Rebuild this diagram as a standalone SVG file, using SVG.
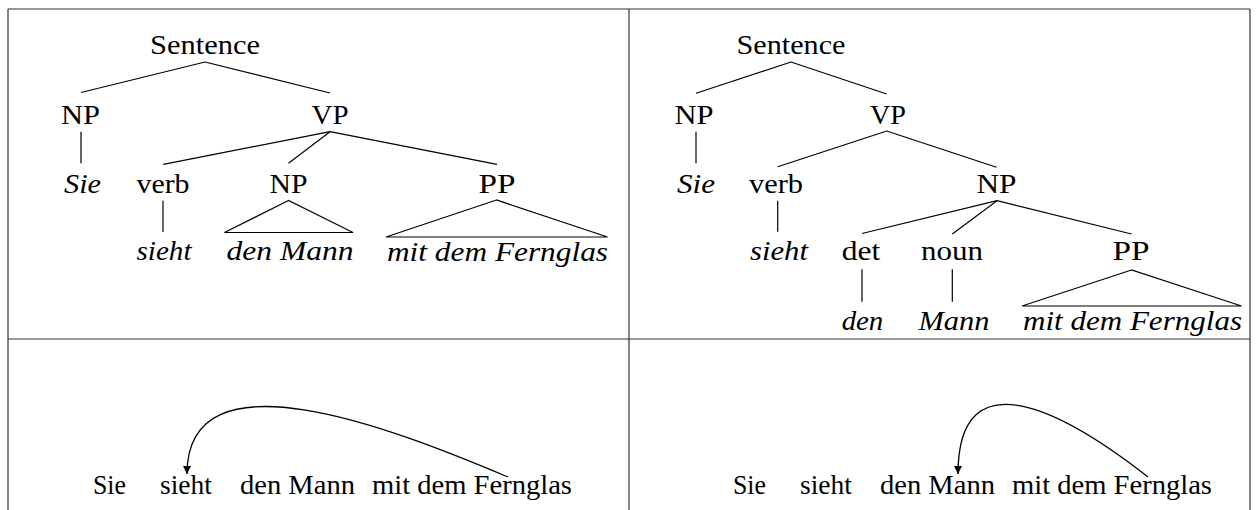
<svg xmlns="http://www.w3.org/2000/svg" width="1258" height="510" viewBox="0 0 1258 510" font-family="'Liberation Serif', Tinos, 'Noto Serif', 'DejaVu Serif', FreeSerif, 'Nimbus Roman', Times, Georgia, serif">
  <defs>
    <marker id="arrowhead" viewBox="0 0 10 10" refX="10" refY="5" markerWidth="10" markerHeight="8" markerUnits="userSpaceOnUse" orient="auto">
      <path d="M0,0 L10,5 L0,10 Z" fill="#000"/>
    </marker>
  </defs>
  <style>
    .frame { stroke: #333; stroke-width: 1.2; fill: none; }
    .edge { stroke: #000; stroke-width: 1.2; fill: none; stroke-linejoin: miter; }
    .arc { stroke: #000; stroke-width: 1.3; fill: none; }
    .cat { font-size: 28px; text-anchor: middle; fill: #000; }
    .word { font-size: 28px; font-style: italic; text-anchor: middle; fill: #000; }
    .plain { font-size: 27px; fill: #000; }
  </style>

  <rect width="1258" height="510" fill="#fff"/>

  <!-- table frame -->
  <g id="frame">
    <line class="frame" x1="8" y1="9" x2="1250" y2="9"/>
    <line class="frame" x1="8" y1="9" x2="8" y2="510"/>
    <line class="frame" x1="629" y1="9" x2="629" y2="510"/>
    <line class="frame" x1="1250" y1="9" x2="1250" y2="510"/>
    <line class="frame" x1="8" y1="339" x2="1250" y2="339"/>
  </g>

  <!-- tree edges and roofs -->
  <g id="connectors">
    <!-- left tree: PP attached to VP -->
    <line class="edge" x1="205" y1="62" x2="81" y2="92.5"/>
    <line class="edge" x1="205" y1="62" x2="330" y2="93"/>
    <line class="edge" x1="81" y1="131.7" x2="81" y2="163.3"/>
    <line class="edge" x1="330" y1="131.7" x2="163.3" y2="164.3"/>
    <line class="edge" x1="330" y1="131.7" x2="288.5" y2="163.3"/>
    <line class="edge" x1="330" y1="131.7" x2="497" y2="164.3"/>
    <line class="edge" x1="163" y1="200.7" x2="163" y2="232"/>
    <polygon class="edge" points="288.5,200.5 224.5,232.5 353,232.5"/>
    <polygon class="edge" points="496.5,200 386,237 607.5,237"/>

    <!-- right tree: PP attached to NP -->
    <line class="edge" x1="791" y1="62" x2="696" y2="93.3"/>
    <line class="edge" x1="791" y1="62" x2="886.7" y2="94"/>
    <line class="edge" x1="696" y1="131.7" x2="696" y2="163.3"/>
    <line class="edge" x1="886.7" y1="131" x2="777.7" y2="166.7"/>
    <line class="edge" x1="886.7" y1="131" x2="996.5" y2="167.3"/>
    <line class="edge" x1="777.7" y1="200.7" x2="777.7" y2="231.7"/>
    <line class="edge" x1="997" y1="200.7" x2="862" y2="233.5"/>
    <line class="edge" x1="997" y1="200.7" x2="952.3" y2="234"/>
    <line class="edge" x1="997" y1="200.7" x2="1131.5" y2="234"/>
    <line class="edge" x1="862" y1="269.3" x2="862" y2="301.7"/>
    <line class="edge" x1="952.3" y1="269.3" x2="952.3" y2="301.7"/>
    <polygon class="edge" points="1131.5,270 1022,306 1241.5,306"/>

    <!-- dependency arcs -->
    <path class="arc" d="M508,477 C392,428 187,348 187,474" marker-end="url(#arrowhead)"/>
    <path class="arc" d="M1148,477 C1065,412 958,354 958,474" marker-end="url(#arrowhead)"/>
  </g>

  <!-- left tree nodes -->
  <g id="left-tree">
    <g id="l-sentence"><text class="cat" x="205" y="54" textLength="110" lengthAdjust="spacingAndGlyphs">Sentence</text></g>
    <g id="l-np"><text class="cat" x="80.5" y="124" textLength="39" lengthAdjust="spacingAndGlyphs">NP</text></g>
    <g id="l-vp"><text class="cat" x="330" y="124" textLength="37" lengthAdjust="spacingAndGlyphs">VP</text></g>
    <g id="l-sie"><text class="word" x="82.5" y="192.5" textLength="37" lengthAdjust="spacingAndGlyphs">Sie</text></g>
    <g id="l-verb"><text class="cat" x="163" y="192.5" textLength="53" lengthAdjust="spacingAndGlyphs">verb</text></g>
    <g id="l-np2"><text class="cat" x="288.5" y="192.5" textLength="38" lengthAdjust="spacingAndGlyphs">NP</text></g>
    <g id="l-pp"><text class="cat" x="497" y="192.5" textLength="37" lengthAdjust="spacingAndGlyphs">PP</text></g>
    <g id="l-sieht"><text class="word" x="164" y="260" textLength="55" lengthAdjust="spacingAndGlyphs">sieht</text></g>
    <g id="l-denmann"><text class="word" x="290" y="260" textLength="127" lengthAdjust="spacingAndGlyphs">den Mann</text></g>
    <g id="l-fernglas"><text class="word" x="497.5" y="260.5" textLength="221" lengthAdjust="spacingAndGlyphs">mit dem Fernglas</text></g>
  </g>

  <!-- right tree nodes -->
  <g id="right-tree">
    <g id="r-sentence"><text class="cat" x="791" y="54" textLength="109" lengthAdjust="spacingAndGlyphs">Sentence</text></g>
    <g id="r-np"><text class="cat" x="694" y="124" textLength="39" lengthAdjust="spacingAndGlyphs">NP</text></g>
    <g id="r-vp"><text class="cat" x="888" y="124" textLength="36" lengthAdjust="spacingAndGlyphs">VP</text></g>
    <g id="r-sie"><text class="word" x="696" y="192.5" textLength="38" lengthAdjust="spacingAndGlyphs">Sie</text></g>
    <g id="r-verb"><text class="cat" x="776" y="192.5" textLength="54" lengthAdjust="spacingAndGlyphs">verb</text></g>
    <g id="r-np2"><text class="cat" x="996.5" y="192.5" textLength="40" lengthAdjust="spacingAndGlyphs">NP</text></g>
    <g id="r-sieht"><text class="word" x="779" y="260" textLength="58" lengthAdjust="spacingAndGlyphs">sieht</text></g>
    <g id="r-det"><text class="cat" x="861" y="260" textLength="38.5" lengthAdjust="spacingAndGlyphs">det</text></g>
    <g id="r-noun"><text class="cat" x="952" y="260" textLength="62" lengthAdjust="spacingAndGlyphs">noun</text></g>
    <g id="r-pp"><text class="cat" x="1131" y="260" textLength="37" lengthAdjust="spacingAndGlyphs">PP</text></g>
    <g id="r-den"><text class="word" x="862.5" y="329.5" textLength="41.6" lengthAdjust="spacingAndGlyphs">den</text></g>
    <g id="r-mann"><text class="word" x="954" y="329.5" textLength="71" lengthAdjust="spacingAndGlyphs">Mann</text></g>
    <g id="r-fernglas"><text class="word" x="1132.5" y="329.5" textLength="219" lengthAdjust="spacingAndGlyphs">mit dem Fernglas</text></g>
  </g>

  <!-- flat sentences under the dependency arcs -->
  <g id="left-sentence">
    <text class="plain" x="93" y="494.3" textLength="33" lengthAdjust="spacingAndGlyphs">Sie</text>
    <text class="plain" x="160" y="494.3" textLength="52" lengthAdjust="spacingAndGlyphs">sieht</text>
    <text class="plain" x="240" y="494.3" textLength="115" lengthAdjust="spacingAndGlyphs">den Mann</text>
    <text class="plain" x="372" y="494.3" textLength="200" lengthAdjust="spacingAndGlyphs">mit dem Fernglas</text>
  </g>
  <g id="right-sentence">
    <text class="plain" x="733" y="494.3" textLength="33" lengthAdjust="spacingAndGlyphs">Sie</text>
    <text class="plain" x="800" y="494.3" textLength="52" lengthAdjust="spacingAndGlyphs">sieht</text>
    <text class="plain" x="880" y="494.3" textLength="115" lengthAdjust="spacingAndGlyphs">den Mann</text>
    <text class="plain" x="1012" y="494.3" textLength="200" lengthAdjust="spacingAndGlyphs">mit dem Fernglas</text>
  </g>
</svg>
